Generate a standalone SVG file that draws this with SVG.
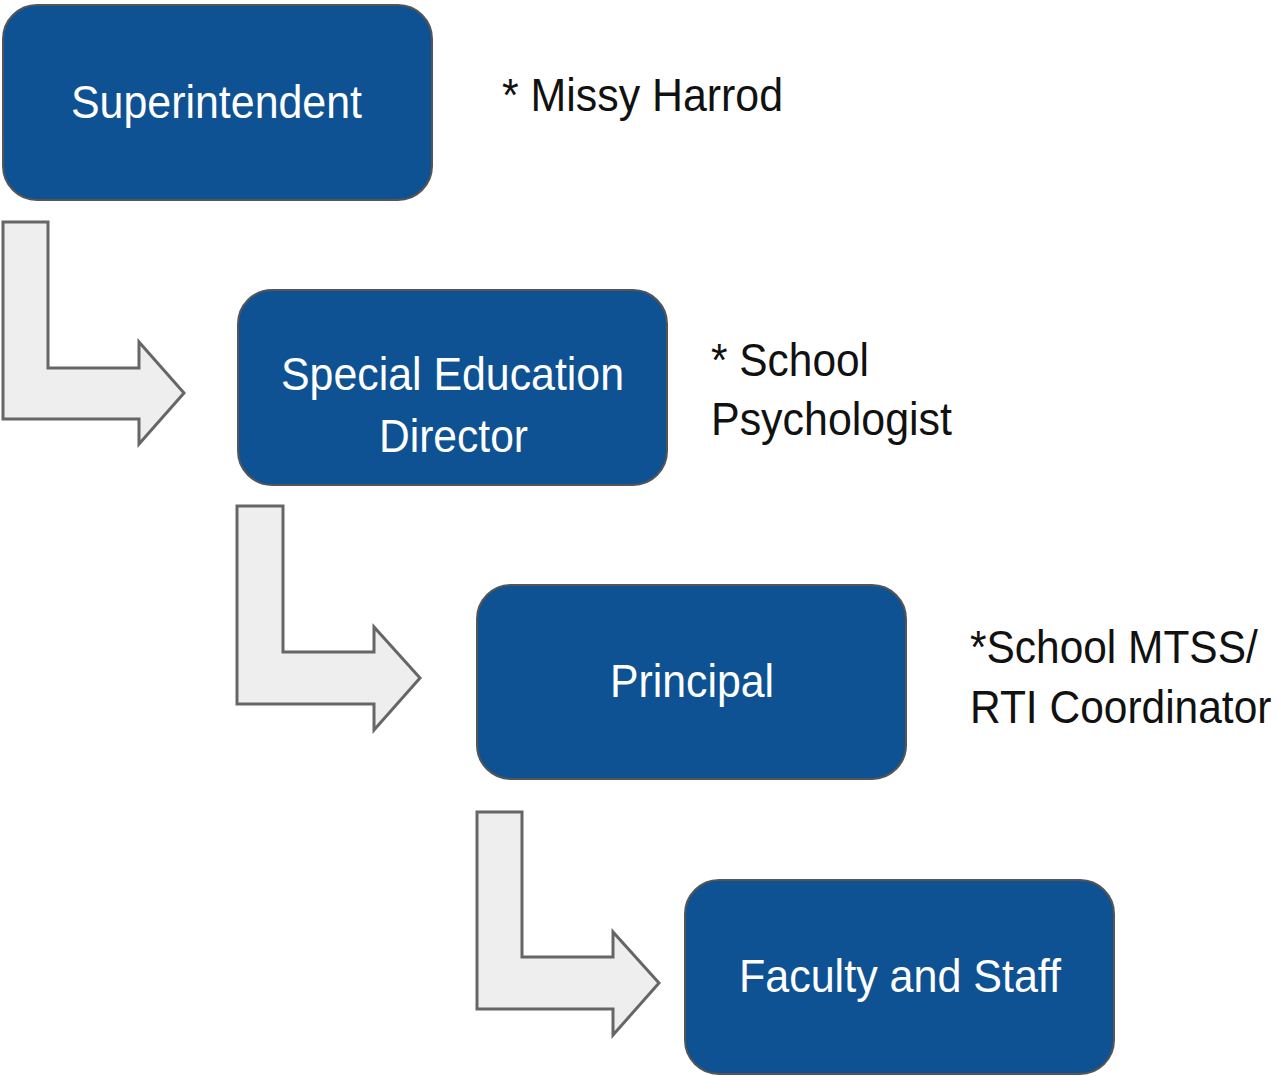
<svg xmlns="http://www.w3.org/2000/svg" width="1278" height="1076" viewBox="0 0 1278 1076">
  <style>
    .box { fill: #0F5293; stroke: #555555; stroke-width: 2; }
    .box-label { fill: #FFFFFF; font-family: "Liberation Sans", Arial, sans-serif; font-size: 46px; }
    .note { fill: #111111; font-family: "Liberation Sans", Arial, sans-serif; font-size: 46px; }
    .bent-arrow { fill: #EEEEEE; stroke: #666666; stroke-width: 3; stroke-linejoin: miter; }
  </style>
  <rect width="1278" height="1076" fill="#FFFFFF"/>

  <!-- bent arrows leading from each role down to the next -->
  <g id="connectors">
    <path class="bent-arrow" d="M3,222 L48,222 L48,368 L139,368 L139,342 L184,393 L139,444 L139,419 L3,419 Z"/>
    <path class="bent-arrow" d="M237,506 L283,506 L283,652 L374,652 L374,627 L420,678 L374,730 L374,704 L237,704 Z"/>
    <path class="bent-arrow" d="M477,812 L522,812 L522,957 L613,957 L613,932 L659,983 L613,1035 L613,1009 L477,1009 Z"/>
  </g>

  <g id="superintendent">
    <rect class="box" x="3" y="5" width="429" height="195" rx="34"/>
    <text class="box-label" x="71" y="118" textLength="291" lengthAdjust="spacingAndGlyphs">Superintendent</text>
  </g>

  <g id="special-education-director">
    <rect class="box" x="238" y="290" width="429" height="195" rx="34"/>
    <text class="box-label" x="281" y="390" textLength="343" lengthAdjust="spacingAndGlyphs">Special Education</text>
    <text class="box-label" x="379" y="452" textLength="149" lengthAdjust="spacingAndGlyphs">Director</text>
  </g>

  <g id="principal">
    <rect class="box" x="477" y="585" width="429" height="194" rx="34"/>
    <text class="box-label" x="610" y="697" textLength="164" lengthAdjust="spacingAndGlyphs">Principal</text>
  </g>

  <g id="faculty-and-staff">
    <rect class="box" x="685" y="880" width="429" height="194" rx="34"/>
    <text class="box-label" x="739" y="992" textLength="322" lengthAdjust="spacingAndGlyphs">Faculty and Staff</text>
  </g>

  <g id="notes">
    <text class="note" x="502" y="111" textLength="281" lengthAdjust="spacingAndGlyphs">* Missy Harrod</text>
    <text class="note" x="711" y="376" textLength="158" lengthAdjust="spacingAndGlyphs">* School</text>
    <text class="note" x="711" y="435" textLength="241" lengthAdjust="spacingAndGlyphs">Psychologist</text>
    <!-- condensed horizontally so the lines stay inside the right margin -->
    <text class="note" transform="translate(970,663) scale(0.923,1)">*School MTSS/</text>
    <text class="note" transform="translate(970,723) scale(0.924,1)">RTI Coordinator</text>
  </g>
</svg>
